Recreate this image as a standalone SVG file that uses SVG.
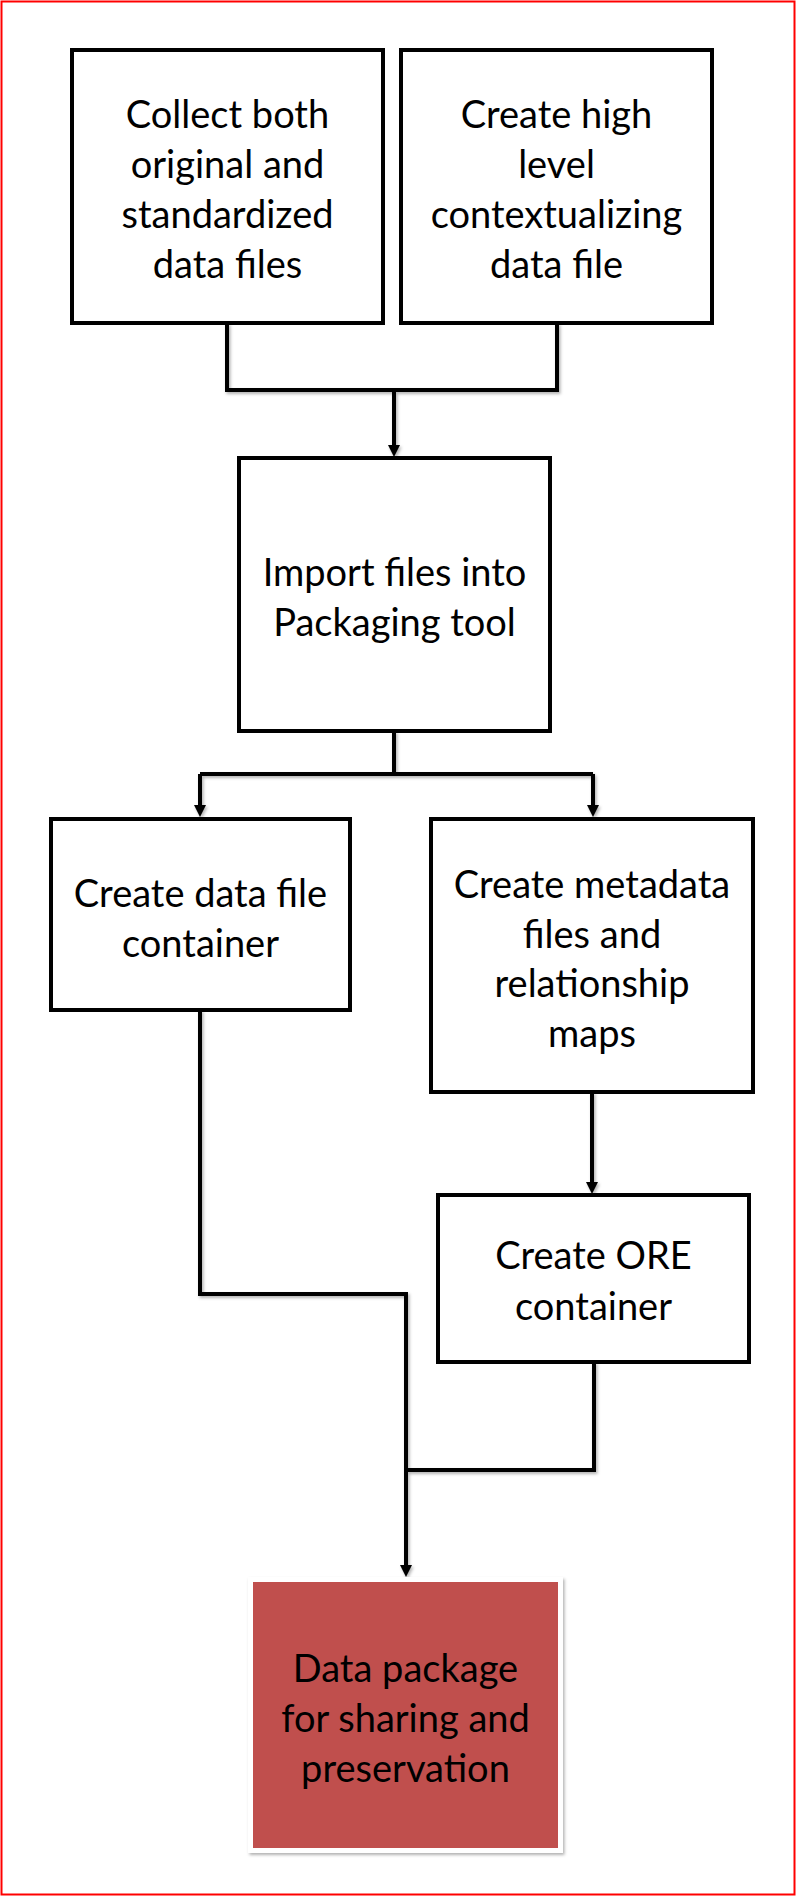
<svg xmlns="http://www.w3.org/2000/svg" width="796" height="1897" viewBox="0 0 796 1897">
<defs>
<style>
.box{fill:#fff;stroke:#000;stroke-width:4;}
.red{fill:#C0504D;stroke:#fff;stroke-width:5;}
.t{font-family:Lato,"Open Sans",sans-serif;font-size:38px;fill:#000;text-anchor:middle;}
.c{fill:none;stroke:#000;stroke-width:4;stroke-linejoin:miter;}
</style>
<marker id="ah" markerUnits="userSpaceOnUse" markerWidth="12" markerHeight="12" refX="4" refY="6" orient="auto">
<path d="M0,0 L12,6 L0,12 z" fill="#000"/>
</marker>
<filter id="sh" x="-10%" y="-10%" width="130%" height="130%">
<feDropShadow dx="1.5" dy="2" stdDeviation="1.5" flood-color="#000" flood-opacity="0.3"/>
</filter>
</defs>
<rect x="1.5" y="1.5" width="793" height="1893" fill="#fff" stroke="#FF0000" stroke-width="2"/>
<g id="connectors" filter="url(#sh)">
<path class="c" d="M227,323 V390 H557 V323"/>
<path class="c" d="M394,390 V449" marker-end="url(#ah)"/>
<path class="c" d="M394,731 V774"/>
<path class="c" d="M200,774 H593"/>
<path class="c" d="M200,774 V809" marker-end="url(#ah)"/>
<path class="c" d="M593,774 V809" marker-end="url(#ah)"/>
<path class="c" d="M592,1092 V1186" marker-end="url(#ah)"/>
<path class="c" d="M200,1010 V1294 H406 V1569" marker-end="url(#ah)"/>
<path class="c" d="M594,1362 V1470 H406"/>
</g>
<g id="collect">
<rect class="box" x="72" y="50" width="311" height="273"/>
<text class="t" x="227.5" y="128">Collect both</text>
<text class="t" x="227.5" y="178">original and</text>
<text class="t" x="227.5" y="228">standardized</text>
<text class="t" x="227.5" y="278">data files</text>
</g>
<g id="context">
<rect class="box" x="401" y="50" width="311" height="273"/>
<text class="t" x="556.5" y="128">Create high</text>
<text class="t" x="556.5" y="178">level</text>
<text class="t" x="556.5" y="228">contextualizing</text>
<text class="t" x="556.5" y="278">data file</text>
</g>
<g id="import">
<rect class="box" x="239" y="458" width="311" height="273"/>
<text class="t" x="394.5" y="586">Import files into</text>
<text class="t" x="394.5" y="636">Packaging tool</text>
</g>
<g id="datafile">
<rect class="box" x="51" y="819" width="299" height="191"/>
<text class="t" x="200.5" y="907">Create data file</text>
<text class="t" x="200.5" y="957">container</text>
</g>
<g id="metadata">
<rect class="box" x="431" y="819" width="322" height="273"/>
<text class="t" x="592" y="898">Create metadata</text>
<text class="t" x="592" y="948">files and</text>
<text class="t" x="592" y="997">relationship</text>
<text class="t" x="592" y="1047">maps</text>
</g>
<g id="ore">
<rect class="box" x="438" y="1195" width="311" height="167"/>
<text class="t" x="593.5" y="1269">Create ORE</text>
<text class="t" x="593.5" y="1320">container</text>
</g>
<g id="package">
<rect class="red" x="250.5" y="1579.5" width="310" height="271" filter="url(#sh)"/>
<text class="t" x="405.5" y="1682">Data package</text>
<text class="t" x="405.5" y="1732">for sharing and</text>
<text class="t" x="405.5" y="1782">preservation</text>
</g>
</svg>
